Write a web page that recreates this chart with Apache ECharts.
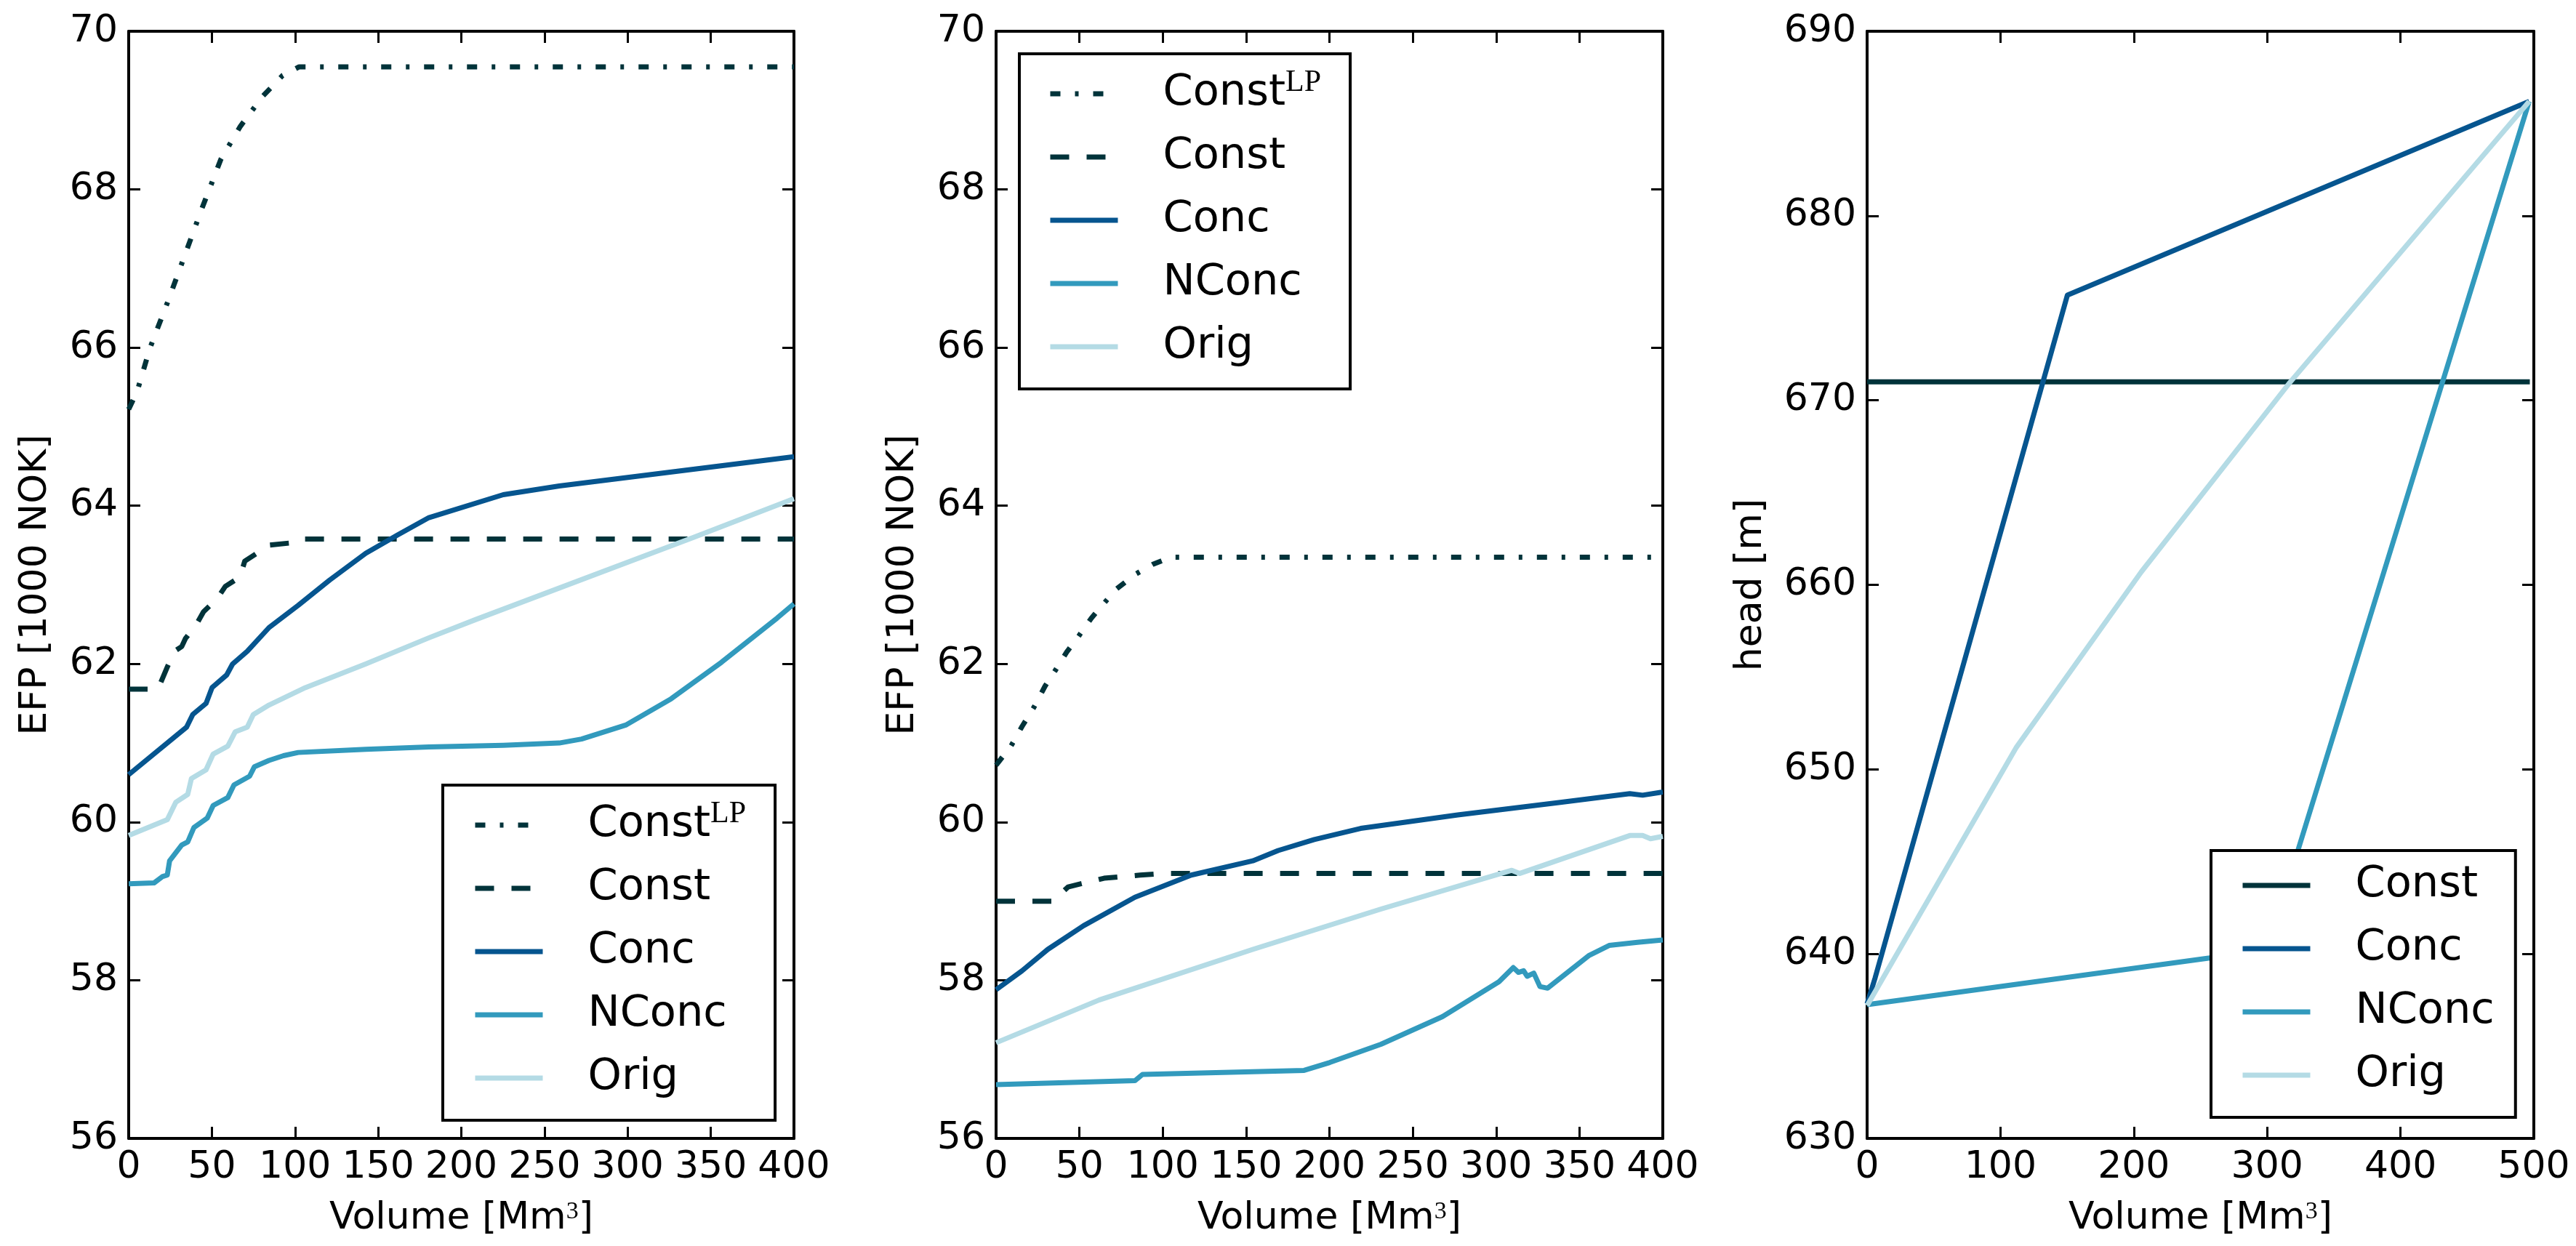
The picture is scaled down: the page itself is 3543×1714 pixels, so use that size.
<!DOCTYPE html>
<html>
<head>
<meta charset="utf-8">
<script src="https://cdn.jsdelivr.net/npm/echarts@6/dist/echarts.min.js"></script>
<style>
  html, body { margin: 0; padding: 0; background: #fff; }
  #chart { width: 3543px; height: 1714px; }
</style>
</head>
<body>
<div id="chart"></div>
<script>
// panel 1: EFP vs volume
const p1ConstLP = [[0, 65.22], [5, 65.44], [12.7, 65.99], [23.5, 66.58], [33.6, 67.16], [43.7, 67.74], [55.4, 68.38], [67.2, 68.8], [80.7, 69.18], [92.5, 69.44], [102.5, 69.55], [400, 69.55]];
const p1Const = [[0, 61.68], [17, 61.68], [18.8, 61.74], [23.2, 61.96], [27.5, 62.16], [31.9, 62.22], [34.1, 62.32], [40.7, 62.5], [45, 62.66], [53, 62.82], [58.1, 62.98], [66.9, 63.1], [69.8, 63.3], [78.6, 63.42], [82.9, 63.5], [97.5, 63.53], [101.1, 63.58], [400, 63.58]];
const p1Conc = [[0, 60.6], [34.8, 61.2], [38.5, 61.36], [46.5, 61.5], [50.1, 61.7], [58.9, 61.86], [62.5, 62.0], [71.3, 62.16], [84.4, 62.46], [101.9, 62.74], [120.8, 63.06], [142.6, 63.4], [161.6, 63.63], [180.5, 63.85], [225.2, 64.14], [258.9, 64.25], [400, 64.62]];
const p1NConc = [[0, 59.22], [15.2, 59.23], [20.2, 59.31], [23.2, 59.33], [24.6, 59.51], [31.9, 59.71], [35.5, 59.75], [39.2, 59.93], [47.2, 60.05], [50.8, 60.21], [59.6, 60.31], [63.3, 60.47], [72.7, 60.58], [75.6, 60.7], [84.4, 60.78], [93.1, 60.84], [101.9, 60.88], [142.6, 60.92], [180.5, 60.95], [225.2, 60.97], [258.9, 61.0], [272.3, 61.05], [299.2, 61.23], [326.2, 61.56], [356.4, 62.02], [389.9, 62.58], [400, 62.76]];
const p1Orig = [[0, 59.83], [23.2, 60.03], [28.3, 60.25], [35.5, 60.35], [37.7, 60.55], [46.5, 60.66], [50.8, 60.86], [59.6, 60.96], [64, 61.14], [71.3, 61.2], [74.9, 61.36], [84.4, 61.48], [106.2, 61.7], [142.6, 62.0], [180.5, 62.33], [208.5, 62.56], [339.6, 63.6], [400, 64.09]];

// panel 2: EFP vs volume
const p2ConstLP = [[0, 60.72], [8.9, 60.96], [15.6, 61.21], [22.4, 61.44], [29.4, 61.72], [35.6, 61.92], [42.4, 62.15], [49.5, 62.35], [57.2, 62.58], [63.2, 62.73], [72.4, 62.95], [83.3, 63.13], [94.1, 63.26], [104.8, 63.35], [400, 63.35]];
const p2Const = [[0, 59.0], [34, 59.0], [43.2, 59.18], [51, 59.22], [64.8, 59.29], [86.4, 59.33], [100, 59.35], [400, 59.35]];
const p2Conc = [[0, 57.88], [15.6, 58.12], [31, 58.39], [52.5, 58.69], [83.3, 59.05], [117.1, 59.33], [154, 59.51], [169.2, 59.64], [190.9, 59.78], [218.7, 59.92], [277, 60.09], [338.5, 60.25], [380.2, 60.36], [387.9, 60.34], [400, 60.38]];
const p2NConc = [[0, 56.68], [83.3, 56.73], [87.9, 56.81], [184.8, 56.86], [200.2, 56.96], [230.9, 57.19], [267.8, 57.54], [301.7, 57.98], [310.3, 58.16], [313.4, 58.1], [316.5, 58.12], [318.6, 58.05], [322.6, 58.09], [326.3, 57.92], [330.9, 57.9], [355.5, 58.31], [367.8, 58.44], [384.8, 58.48], [400, 58.51]];
const p2Orig = [[0, 57.21], [61.8, 57.75], [154, 58.39], [230.9, 58.9], [309.4, 59.39], [314, 59.35], [380.2, 59.83], [387.9, 59.83], [392.6, 59.79], [400, 59.82]];

// panel 3: head vs volume
const p3Const = [[0, 671], [497, 671]];
const p3Conc = [[0, 637.3], [6, 638.7], [150.2, 675.7], [496.5, 686.2]];
const p3NConc = [[0, 637.25], [300, 640.2], [496.5, 686.2]];
const p3Orig = [[0, 637.2], [112, 651.2], [205.6, 660.7], [316.3, 670.9], [496.5, 686.2]];

const legendLabels = { ConstLP: "Const{sup|LP}", Const: "Const", Conc: "Conc", NConc: "NConc", Orig: "Orig" };
const colors = { ConstLP: "#00333a", Const: "#00333a", Conc: "#06558f", NConc: "#329abd", Orig: "#b4dbe5" };

const FONT = "DejaVu Sans";
const chart = echarts.init(document.getElementById("chart"), null, { renderer: "canvas" });

const axisLine = { show: true, onZero: false, lineStyle: { color: "#000", width: 4 } };
const axisTick = { show: true, inside: true, length: 16, lineStyle: { color: "#000", width: 3 } };
const tickFont = { fontFamily: FONT, fontSize: 52, color: "#000" };

function xPair(g, max, interval) {
  const base = { type: "value", gridIndex: g, min: 0, max, interval, axisLine, axisTick, splitLine: { show: false } };
  return [
    {
      ...base, position: "bottom",
      name: "Volume [Mm{sup|3}]", nameLocation: "middle", nameGap: 84,
      nameTextStyle: { ...tickFont, rich: { sup: { fontFamily: "Liberation Serif", fontSize: 34, verticalAlign: "top", color: "#000" } } },
      axisLabel: { ...tickFont, margin: 14 },
    },
    { ...base, position: "top", axisLabel: { show: false } },
  ];
}

function yPair(g, min, max, interval, name, gap) {
  const base = { type: "value", gridIndex: g, min, max, interval, axisLine, axisTick, splitLine: { show: false } };
  return [
    {
      ...base, position: "left",
      name, nameLocation: "middle", nameGap: gap, nameTextStyle: { ...tickFont },
      axisLabel: { ...tickFont, margin: 15 },
    },
    { ...base, position: "right", axisLabel: { show: false } },
  ];
}

const dashTypes = { ConstLP: [14, 20, 5, 20], Const: [26, 24] };

function line(panel, key, data, g, solidConst) {
  const type = solidConst ? "solid" : (dashTypes[key] || "solid");
  return {
    type: "line", name: panel + "|" + key, data,
    xAxisIndex: 2 * g, yAxisIndex: 2 * g,
    symbol: "none", animation: false,
    lineStyle: { color: colors[key], width: 7, type, cap: "butt", join: "round" },
    itemStyle: { color: colors[key] },
  };
}

function legend(names, left, top, padding) {
  return {
    orient: "vertical", left, top, data: names, padding,
    itemWidth: 93, itemHeight: 14, itemGap: 27,
    selectedMode: false,
    backgroundColor: "#fff", borderColor: "#000", borderWidth: 4, borderRadius: 0,
    itemStyle: { color: "rgba(0,0,0,0)", borderColor: "rgba(0,0,0,0)", borderWidth: 0 },
    lineStyle: { width: 7 },
    formatter: (n) => legendLabels[n.split("|")[1]],
    textStyle: {
      fontFamily: FONT, fontSize: 59, color: "#000", lineHeight: 60, padding: [0, 0, 0, 57],
      rich: { sup: { fontFamily: "Liberation Serif", fontSize: 42, lineHeight: 36, padding: [0, 0, 24, 0], verticalAlign: "bottom", color: "#000" } },
    },
  };
}

const keys5 = ["ConstLP", "Const", "Conc", "NConc", "Orig"];
const keys4 = ["Const", "Conc", "NConc", "Orig"];

chart.setOption({
  backgroundColor: "#fff",
  animation: false,
  grid: [
    { left: 177, top: 43, width: 915, height: 1523 },
    { left: 1370, top: 43, width: 917, height: 1523 },
    { left: 2568, top: 43, width: 917, height: 1523 },
  ],
  xAxis: [...xPair(0, 400, 50), ...xPair(1, 400, 50), ...xPair(2, 500, 100)],
  yAxis: [
    ...yPair(0, 56, 70, 2, "EFP [1000 NOK]", 102),
    ...yPair(1, 56, 70, 2, "EFP [1000 NOK]", 102),
    ...yPair(2, 630, 690, 10, "head [m]", 134),
  ],
  legend: [
    legend(keys5.map((k) => "p1|" + k), 609, 1080, [19, 40, 28, 41]),
    legend(keys5.map((k) => "p2|" + k), 1402, 74, [19, 40, 28, 39]),
    legend(keys4.map((k) => "p3|" + k), 3041, 1170, [18, 29, 28, 40]),
  ],
  series: [
    line("p1", "ConstLP", p1ConstLP, 0),
    line("p1", "Const", p1Const, 0),
    line("p1", "Conc", p1Conc, 0),
    line("p1", "NConc", p1NConc, 0),
    line("p1", "Orig", p1Orig, 0),
    line("p2", "ConstLP", p2ConstLP, 1),
    line("p2", "Const", p2Const, 1),
    line("p2", "Conc", p2Conc, 1),
    line("p2", "NConc", p2NConc, 1),
    line("p2", "Orig", p2Orig, 1),
    line("p3", "Const", p3Const, 2, true),
    line("p3", "Conc", p3Conc, 2),
    line("p3", "NConc", p3NConc, 2),
    line("p3", "Orig", p3Orig, 2),
  ],
});

window.addEventListener("resize", () => chart.resize());
</script>
</body>
</html>
